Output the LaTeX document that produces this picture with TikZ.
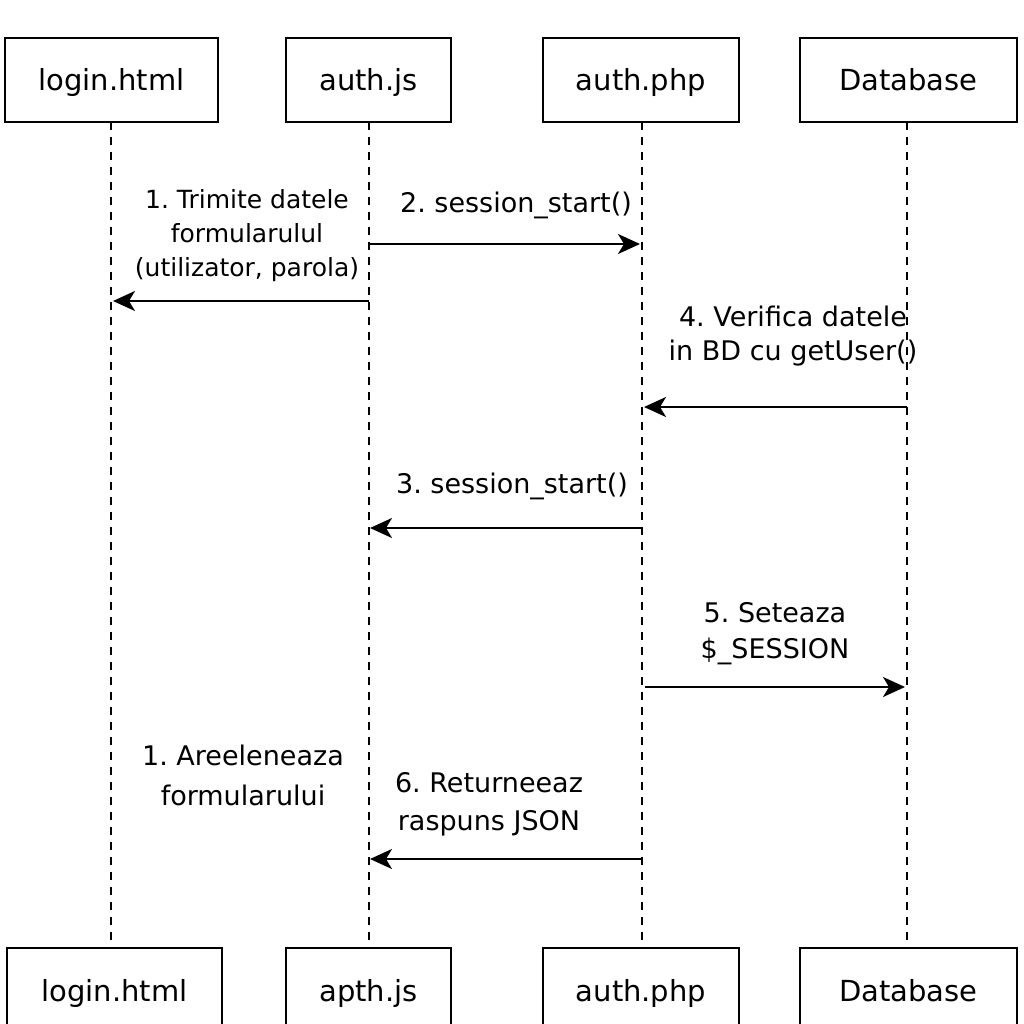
\documentclass[tikz,border=0pt]{standalone}
\usepackage{fontspec}
\setmainfont{DejaVu Sans}
\usetikzlibrary{arrows.meta}
\begin{document}
\frenchspacing
\begin{tikzpicture}[x=1pt,y=-1pt,
  actor/.style={draw,line width=1.8pt,inner sep=0pt,text height=22pt,text depth=0pt,
    minimum height=84pt,font=\fontsize{29}{34}\selectfont},
  life/.style={line width=1.5pt,dash pattern=on 8pt off 7pt},
  msg/.style={line width=2.2pt,-{Stealth[length=22pt,width=20pt,inset=6pt]}},
  lbl/.style={align=center,inner sep=0pt,font=\fontsize{27}{36}\selectfont}]
\clip (0,0) rectangle (1024,1024);
\useasboundingbox (0,0) rectangle (1024,1024);
% top actors
\node[actor,minimum width=213pt] (t1) at (111.5,80) {login.html};
\node[actor,minimum width=165pt] (t2) at (368.5,80) {auth.js};
\node[actor,minimum width=196pt] (t3) at (641,80) {auth.php};
\node[actor,minimum width=217pt] (t4) at (908.5,80) {Database};
% bottom actors
\node[actor,minimum width=215pt] (b1) at (114.5,990) {login.html};
\node[actor,minimum width=165pt] (b2) at (368.5,990) {apth.js};
\node[actor,minimum width=196pt] (b3) at (641,990) {auth.php};
\node[actor,minimum width=217pt] (b4) at (908.5,990) {Database};
% lifelines
\coordinate (l1t) at (111,122); \coordinate (l1b) at (111,946);
\coordinate (l2t) at (369,122); \coordinate (l2b) at (369,946);
\coordinate (l3t) at (642,122); \coordinate (l3b) at (642,946);
\coordinate (l4t) at (907,122); \coordinate (l4b) at (907,946);
\draw[life] (l1t) -- (l1b);
\draw[life] (l2t) -- (l2b);
\draw[life] (l3t) -- (l3b);
\draw[life] (l4t) -- (l4b);
% message endpoints
\coordinate (m1s) at (369,244); \coordinate (m1e) at (640,244);
\coordinate (m2s) at (369,301); \coordinate (m2e) at (113,301);
\coordinate (m3s) at (907,407); \coordinate (m3e) at (644,407);
\coordinate (m4s) at (642,528); \coordinate (m4e) at (370,528);
\coordinate (m5s) at (645,687); \coordinate (m5e) at (905,687);
\coordinate (m6s) at (642,859); \coordinate (m6e) at (370,859);
\draw[msg] (m1s) -- (m1e);
\draw[msg] (m2s) -- (m2e);
\draw[msg] (m3s) -- (m3e);
\draw[msg] (m4s) -- (m4e);
\draw[msg] (m5s) -- (m5e);
\draw[msg] (m6s) -- (m6e);
% labels
\node[lbl,font=\fontsize{25}{34}\selectfont] (a1) at (247,236) {1. Trimite datele\\formularulul\\(utilizator, parola)};
\node[lbl] (a2) at (516,205) {2. session\_start()};
\node[lbl,font=\fontsize{27}{34}\selectfont] (a4) at (793,336) {4. Verifica datele\\in BD cu getUser()};
\node[lbl] (a3) at (512,486) {3. session\_start()};
\node[lbl] (a5) at (775,634) {5. Seteaza\\\$\_SESSION};
\node[lbl,font=\fontsize{27}{40}\selectfont] (a7) at (243,775) {1. Areeleneaza\\formularului};
\node[lbl,font=\fontsize{27}{38}\selectfont] (a6) at (489,804) {6. Returneeaz\\raspuns JSON};
\end{tikzpicture}
\end{document}
